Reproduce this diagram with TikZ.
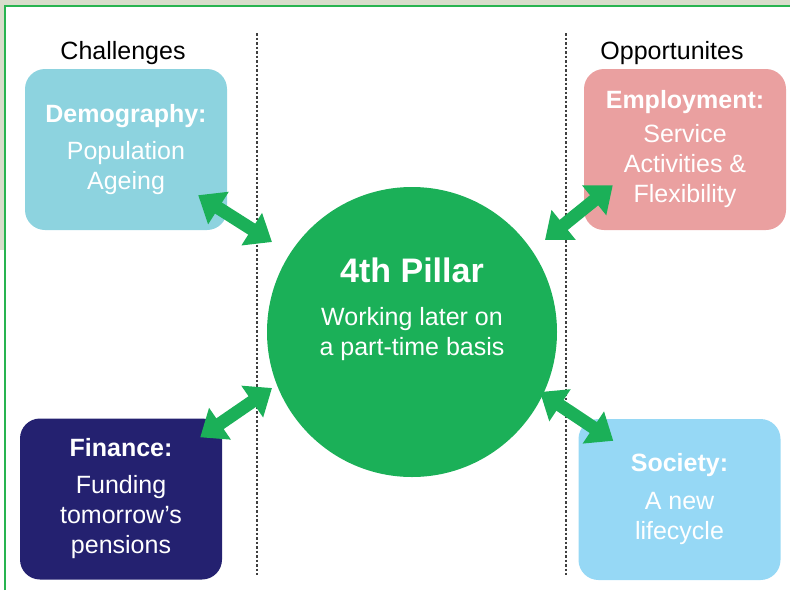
\documentclass[tikz,border=0pt]{standalone}
\usepackage{fontspec}
\setmainfont{Liberation Sans}
\usetikzlibrary{arrows.meta}

\definecolor{pillargreen}{RGB}{27,176,88}
\definecolor{demoblue}{RGB}{141,211,223}
\definecolor{emplred}{RGB}{234,160,160}
\definecolor{finnavy}{RGB}{36,33,112}
\definecolor{socblue}{RGB}{150,216,245}
\definecolor{framegreen}{RGB}{40,180,80}
\definecolor{paper}{RGB}{216,221,203}

\tikzset{
  box/.style={rounded corners=20pt, minimum width=202pt, minimum height=161pt,
    inner sep=0pt, text=white, align=center, font=\fontsize{25}{30}\selectfont},
  link/.style={pillargreen, line width=13pt,
    {Triangle[length=24pt,width=37pt]}-{Triangle[length=24pt,width=37pt]}},
  divider/.style={black!75, line width=1.8pt, dash pattern=on 2.5pt off 2pt},
  heading/.style={anchor=base, font=\fontsize{25}{30}\selectfont},
}

\begin{document}
\begin{tikzpicture}[x=1pt,y=-1pt]
\useasboundingbox (0,0) rectangle (790,590);

\fill [paper] (0,0) rectangle (790,6); % page edge
\fill [paper] (0,0) rectangle (5,250);
\draw [framegreen, line width=1.2pt] (5,590) -- (5,6) -- (790,6);

\draw [divider] (257,33) -- (257,575);
\draw [divider] (566,33) -- (566,575);

\node [heading] (chal) at (123,59) {Challenges};
\node [heading] (opp) at (672,59) {Opportunites};

\node [box, fill=demoblue] (demo) at (126,149.5) {\textbf{Demography:}\\[7pt]Population\\Ageing};
\node [box, fill=emplred] (empl) at (685,149.5) {\textbf{Employment:}\\[4pt]Service\\Activities \&\\Flexibility};
\node [box, fill=finnavy] (fin) at (121,499) {\textbf{Finance:}\\[7pt]Funding\\tomorrow’s\\pensions};
\node [box, fill=socblue] (soc) at (679.5,499.5) {\textbf{Society:}\\[8pt]A new\\lifecycle};

\node [circle, fill=pillargreen, minimum size=290pt, inner sep=0pt] (pillar) at (412,332) {};
\node [text=white, align=center, font=\fontsize{25}{30}\selectfont] (pillartext) at (412,309)
  {{\fontsize{34}{34}\selectfont\bfseries 4th Pillar}\\[13pt]Working later on\\a part-time basis};

\draw [link] ([shift={(-29,-35)}]demo.south east) -- ([shift={(-140,-90)}]pillar.center);
\draw [link] ([shift={(29,-45)}]empl.south west) -- ([shift={(133,-92)}]pillar.center);
\draw [link] ([shift={(-22,19)}]fin.north east) -- ([shift={(-140,56)}]pillar.center);
\draw [link] ([shift={(35,22)}]soc.north west) -- ([shift={(128,60)}]pillar.center);

\end{tikzpicture}
\end{document}
